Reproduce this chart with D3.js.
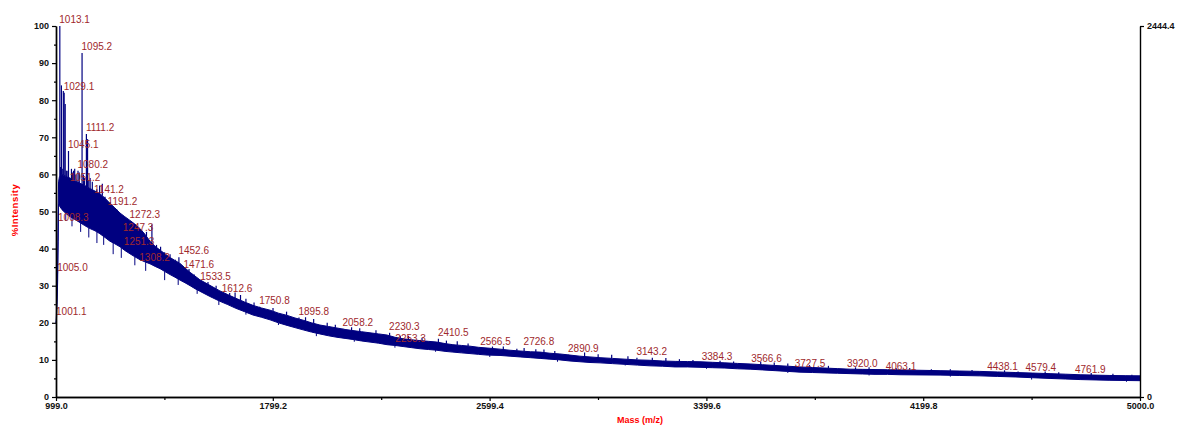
<!DOCTYPE html>
<html>
<head>
<meta charset="utf-8">
<script src="https://cdn.jsdelivr.net/npm/d3@7/dist/d3.min.js"></script>
<style>
  body { margin: 0; background: #fff; }
  text { font-family: "Liberation Sans", Arial, sans-serif; }
</style>
</head>
<body>
<script>
'use strict';

// axis values
const massDomain = [999.0, 5000.0];
const xTickValues = [999.0, 1799.2, 2599.4, 3399.6, 4199.8, 5000.0];
const xMinorTicks = [1399.1, 2199.3, 2999.5, 3799.7, 4599.9];
const yTickValues = [0, 10, 20, 30, 40, 50, 60, 70, 80, 90, 100];
const yMinorTicks = [5, 15, 25, 35, 45, 55, 65, 75, 85, 95];
const rightAxisMax = 2444.4;

// noise band of the spectrum (mass, lower edge, upper edge in %)
const bandMass = [999.0, 1000.5, 1003.0, 1005.0, 1007.0, 1008.5, 1012.0, 1021.0, 1035.0, 1051.0,
  1070.0, 1088.0, 1105.0, 1124.5, 1143.0, 1161.0, 1180.0, 1198.0, 1216.0, 1235.0,
  1253.0, 1272.0, 1290.0, 1309.0, 1328.0, 1346.0, 1365.0, 1383.0, 1401.0, 1420.0,
  1438.0, 1457.0, 1475.0, 1494.0, 1512.0, 1530.0, 1567.0, 1604.0, 1633.0, 1663.0,
  1695.0, 1726.0, 1757.0, 1789.0, 1820.0, 1852.0, 1881.0, 1911.0, 1942.0, 1973.0,
  2005.0, 2036.0, 2066.0, 2095.0, 2127.0, 2158.0, 2190.0, 2221.0, 2250.0, 2280.0,
  2312.0, 2343.0, 2374.0, 2405.0, 2435.0, 2464.0, 2495.0, 2527.0, 2558.0, 2590.0,
  2638.0, 2675.0, 2712.0, 2750.0, 2786.0, 2822.0, 2859.0, 2896.0, 2933.0, 2970.0,
  3007.0, 3053.0, 3099.0, 3145.0, 3191.0, 3238.0, 3284.0, 3330.0, 3376.0, 3422.0,
  3468.0, 3515.0, 3561.0, 3607.0, 3653.0, 3699.0, 3745.0, 3791.0, 3837.0, 3883.0,
  3930.0, 3976.0, 4022.0, 4068.0, 4114.0, 4188.0, 4262.0, 4335.0, 4409.0, 4474.0,
  4539.0, 4603.0, 4668.0, 4724.0, 4779.0, 4834.0, 4889.0, 4945.0, 5000.0];
const bandLow = [20.0, 20.5, 25.0, 31.0, 42.0, 52.0, 51.5, 50.5, 49.5, 48.6,
  47.8, 47.0, 46.2, 45.4, 44.8, 44.0, 43.0, 42.0, 41.3, 40.5,
  39.5, 38.6, 37.8, 37.0, 36.4, 35.9, 35.2, 34.6, 33.8, 33.0,
  32.3, 31.5, 30.8, 30.0, 29.2, 28.5, 27.1, 25.8, 24.9, 23.9,
  23.0, 22.1, 21.5, 20.8, 20.0, 19.3, 18.7, 18.1, 17.5, 17.0,
  16.5, 16.1, 15.8, 15.5, 15.1, 14.8, 14.5, 14.1, 13.9, 13.6,
  13.3, 13.0, 12.8, 12.6, 12.3, 12.1, 11.9, 11.7, 11.5, 11.3,
  11.2, 11.0, 10.8, 10.6, 10.4, 10.2, 10.0, 9.7, 9.5, 9.3,
  9.2, 9.0, 8.8, 8.6, 8.4, 8.3, 8.1, 8.1, 8.0, 7.9,
  7.8, 7.6, 7.5, 7.3, 7.1, 6.9, 6.7, 6.6, 6.5, 6.4,
  6.3, 6.2, 6.1, 6.1, 6.0, 5.95, 5.9, 5.8, 5.7, 5.55,
  5.4, 5.2, 5.0, 4.85, 4.7, 4.6, 4.5, 4.45, 4.4];
const bandHigh = [20.0, 22.0, 30.0, 34.0, 50.0, 58.0, 59.5, 60.0, 59.5, 59.0,
  58.2, 57.6, 57.0, 56.2, 55.5, 54.8, 53.6, 52.2, 51.0, 49.6,
  48.6, 47.6, 46.6, 45.4, 43.8, 42.0, 40.6, 39.6, 38.6, 37.6,
  36.8, 36.0, 34.8, 33.6, 32.6, 31.6, 30.1, 28.6, 27.6, 26.6,
  25.6, 24.7, 24.0, 23.4, 22.6, 22.0, 21.3, 20.7, 20.0, 19.4,
  19.0, 18.6, 18.2, 17.9, 17.6, 17.3, 17.0, 16.7, 16.1, 15.7,
  15.4, 15.2, 15.0, 14.8, 14.4, 14.1, 13.9, 13.7, 13.4, 13.2,
  12.9, 12.6, 12.4, 12.2, 12.1, 11.8, 11.6, 11.3, 11.0, 10.8,
  10.6, 10.4, 10.2, 10.0, 9.9, 9.7, 9.6, 9.55, 9.5, 9.35,
  9.2, 9.05, 8.9, 8.7, 8.5, 8.3, 8.1, 7.95, 7.8, 7.65,
  7.5, 7.45, 7.4, 7.35, 7.3, 7.2, 7.1, 7.0, 6.9, 6.75,
  6.6, 6.45, 6.3, 6.15, 6.0, 5.9, 5.8, 5.75, 5.7];

// single spikes above the band (mass, top %)
const spikeMass = [1016.0, 1019.0, 1022.0, 1026.0, 1033.0, 1037.0, 1040.0, 1056.0, 1060.0, 1064.0,
  1068.0, 1073.0, 1085.0, 1100.0, 1104.0, 1115.5, 1120.0, 1125.0, 1133.0, 1150.0,
  1160.0, 1170.0, 1180.0, 1200.0, 1208.0, 1215.0, 1225.0, 1235.0, 1260.0, 1285.0,
  1295.0, 1320.0, 1333.0, 1353.0, 1370.0, 1385.0, 1400.0, 1420.0, 1440.0, 1490.0,
  1510.0, 1560.0, 1590.0, 1640.0, 1660.0, 1680.0, 1700.0, 1730.0, 1800.0, 1850.0,
  1920.0, 1950.0, 2000.0, 2030.0, 2090.0, 2120.0, 2180.0, 2270.0, 2300.0, 2350.0,
  2440.0, 2480.0, 2520.0, 2610.0, 2650.0, 2700.0, 2770.0, 2800.0, 2840.0, 2950.0,
  3000.0, 3050.0, 3110.0, 3200.0, 3250.0, 3300.0, 3350.0, 3450.0, 3500.0, 3600.0,
  3650.0, 3700.0, 3780.0, 3850.0, 3950.0, 4000.0, 4100.0, 4150.0, 4230.0, 4300.0,
  4380.0, 4500.0, 4550.0, 4650.0, 4700.0, 4820.0, 4900.0, 4970.0];
const spikeTop = [62.0, 84.0, 61.5, 82.5, 79.0, 61.0, 61.0, 61.5, 60.5, 61.0,
  61.5, 60.0, 60.5, 60.0, 59.0, 69.5, 58.5, 59.0, 58.0, 56.0,
  57.0, 57.5, 54.0, 52.5, 51.0, 50.0, 50.5, 48.0, 46.0, 45.0,
  44.0, 43.0, 44.5, 46.5, 41.0, 40.5, 39.0, 38.5, 37.0, 34.5,
  33.0, 31.0, 30.0, 28.0, 28.2, 27.5, 26.5, 25.5, 24.0, 23.0,
  21.5, 21.0, 20.0, 19.5, 18.8, 18.5, 18.0, 16.5, 16.5, 16.0,
  15.2, 15.0, 14.4, 13.6, 13.6, 13.0, 12.9, 12.8, 12.4, 12.0,
  11.5, 11.4, 11.0, 10.6, 10.5, 10.2, 10.0, 9.8, 9.6, 9.5,
  9.3, 9.0, 8.6, 8.4, 8.0, 8.0, 7.8, 7.8, 7.5, 7.5,
  7.3, 7.2, 6.9, 6.9, 6.7, 6.5, 6.3, 6.0];

// dips below the band (mass, bottom %)
const dipMass = [1035.0, 1058.0, 1090.0, 1120.0, 1150.0, 1175.0, 1210.0, 1240.0, 1290.0, 1330.0,
  1400.0, 1450.0, 1520.0, 1600.0, 1700.0, 1820.0, 1960.0, 2100.0, 2250.0, 2400.0,
  2600.0, 2850.0, 3100.0, 3400.0, 3700.0, 4000.0, 4300.0, 4600.0, 4950.0];
const dipBottom = [47.5, 46.0, 44.5, 43.0, 41.5, 41.0, 38.5, 37.5, 35.5, 34.0,
  31.5, 30.2, 27.8, 24.8, 22.2, 19.4, 16.4, 14.9, 13.3, 12.2,
  10.8, 9.5, 8.5, 7.6, 6.5, 5.8, 5.5, 4.7, 4.1];

// labelled peaks
const peakLabels = ['1001.1', '1005.0', '1008.3', '1013.1', '1029.1', '1045.1', '1051.2', '1080.2', '1095.2', '1111.2',
  '1141.2', '1191.2', '1247.3', '1251.3', '1272.3', '1308.2', '1452.6', '1471.6', '1533.5', '1612.6',
  '1750.8', '1895.8', '2058.2', '2230.3', '2253.3', '2410.5', '2566.5', '2726.8', '2890.9', '3143.2',
  '3384.3', '3566.6', '3727.5', '3920.0', '4063.1', '4438.1', '4579.4', '4761.9'];
const peakIntensity = [21.3, 33.2, 46.6, 100.0, 82.0, 66.3, 57.4, 61.0, 92.7, 70.9,
  54.2, 51.0, 43.9, 40.2, 47.4, 35.8, 37.7, 34.0, 30.8, 27.5,
  24.3, 21.4, 18.4, 17.3, 14.0, 15.7, 13.2, 13.2, 11.4, 10.6,
  9.2, 8.6, 7.3, 7.3, 6.5, 6.5, 6.2, 5.7];

const msm = {
  width: 1177,
  height: 427,
  left: 56,
  right: 1140,
  top: 26,
  bottom: 397
};

const navy = '#000080';
const labelRed = '#a0282c';

const svg = d3.select('body').append('svg')
  .attr('width', msm.width)
  .attr('height', msm.height);

const x = d3.scaleLinear().domain(massDomain).range([msm.left, msm.right]);
const y = d3.scaleLinear().domain([0, 100]).range([msm.bottom, msm.top]);
const yRight = d3.scaleLinear().domain([0, rightAxisMax]).range([msm.bottom, msm.top]);

// band edges at any mass, used to anchor spikes and dips
const bis = d3.bisector((d) => d).left;
function bandAt(m) {
  let i = Math.max(1, Math.min(bandMass.length - 1, bis(bandMass, m)));
  let t = (m - bandMass[i - 1]) / (bandMass[i] - bandMass[i - 1]);
  return {
    low: bandLow[i - 1] + t * (bandLow[i] - bandLow[i - 1]),
    high: bandHigh[i - 1] + t * (bandHigh[i] - bandHigh[i - 1])
  };
}

// spectrum band
const area = d3.area()
  .x((d, i) => x(bandMass[i]))
  .y0((d, i) => y(bandLow[i]))
  .y1((d, i) => y(bandHigh[i]));
svg.append('path')
  .datum(bandMass)
  .attr('d', area)
  .attr('fill', navy)
  .attr('stroke', navy)
  .attr('stroke-width', 1)
  .attr('stroke-linejoin', 'round');

// spikes, including the labelled peaks
const allSpikes = spikeMass.map((m, i) => [m, spikeTop[i]])
  .concat(peakLabels.map((l, i) => [+l, peakIntensity[i]]));
svg.append('g').selectAll('line')
  .data(allSpikes)
  .enter()
  .append('line')
    .attr('x1', (d) => x(d[0]))
    .attr('x2', (d) => x(d[0]))
    .attr('y1', (d) => y(Math.min(bandAt(d[0]).high, d[1])))
    .attr('y2', (d) => y(d[1]))
    .attr('stroke', navy)
    .attr('stroke-width', 1.2);

svg.append('g').selectAll('line')
  .data(dipMass.map((m, i) => [m, dipBottom[i]]))
  .enter()
  .append('line')
    .attr('x1', (d) => x(d[0]))
    .attr('x2', (d) => x(d[0]))
    .attr('y1', (d) => y(bandAt(d[0]).low))
    .attr('y2', (d) => y(d[1]))
    .attr('stroke', navy)
    .attr('stroke-width', 1);

// peak labels
svg.append('g').selectAll('text')
  .data(peakLabels)
  .enter()
  .append('text')
    .attr('x', (d) => x(+d) - 0.5)
    .attr('y', (d, i) => y(peakIntensity[i]) - 3)
    .attr('fill', labelRed)
    .style('font-size', '10px')
    .text((d) => d);

// axes
function styleAxis(g) {
  g.select('.domain').attr('stroke', '#000').attr('stroke-width', 1.4);
  g.selectAll('.tick line').attr('stroke', '#000').attr('stroke-width', 1.2);
  g.selectAll('.tick text')
    .attr('fill', '#111')
    .style('font-size', '9px')
    .style('font-weight', 'bold')
    .style('font-family', '"Liberation Sans", Arial, sans-serif');
}

svg.append('g')
  .attr('transform', 'translate(0,' + msm.bottom + ')')
  .call(d3.axisBottom(x).tickValues(xMinorTicks).tickSize(3).tickSizeOuter(0).tickFormat(''))
  .call(styleAxis);
svg.append('g')
  .attr('transform', 'translate(0,' + msm.bottom + ')')
  .call(d3.axisBottom(x).tickValues(xTickValues).tickSize(4).tickSizeOuter(0)
    .tickPadding(2).tickFormat(d3.format('.1f')))
  .call(styleAxis);

svg.append('g')
  .attr('transform', 'translate(' + msm.left + ',0)')
  .call(d3.axisLeft(y).tickValues(yMinorTicks).tickSize(2).tickSizeOuter(0).tickFormat(''))
  .call(styleAxis);
svg.append('g')
  .attr('transform', 'translate(' + msm.left + ',0)')
  .call(d3.axisLeft(y).tickValues(yTickValues).tickSize(4).tickSizeOuter(0)
    .tickPadding(3).tickFormat(d3.format('d')))
  .call(styleAxis);

svg.append('g')
  .attr('transform', 'translate(' + msm.right + ',0)')
  .call(d3.axisRight(yRight).tickValues([0, rightAxisMax]).tickSize(4).tickSizeOuter(0)
    .tickPadding(3).tickFormat((d) => d === 0 ? '0' : d3.format('.1f')(d)))
  .call(styleAxis);

// axis titles
svg.append('text')
  .attr('x', (msm.left + msm.right) / 2 + 42)
  .attr('y', msm.height - 4)
  .attr('text-anchor', 'middle')
  .attr('fill', '#ff0000')
  .style('font-size', '9px')
  .style('font-weight', 'bold')
  .text('Mass (m/z)');

svg.append('text')
  .attr('transform', 'translate(18,' + 210 + ') rotate(-90)')
  .attr('text-anchor', 'middle')
  .attr('fill', '#ff0000')
  .style('font-size', '9.5px')
  .style('font-weight', 'bold')
  .style('letter-spacing', '0.5px')
  .text('%Intensity');
</script>
</body>
</html>
